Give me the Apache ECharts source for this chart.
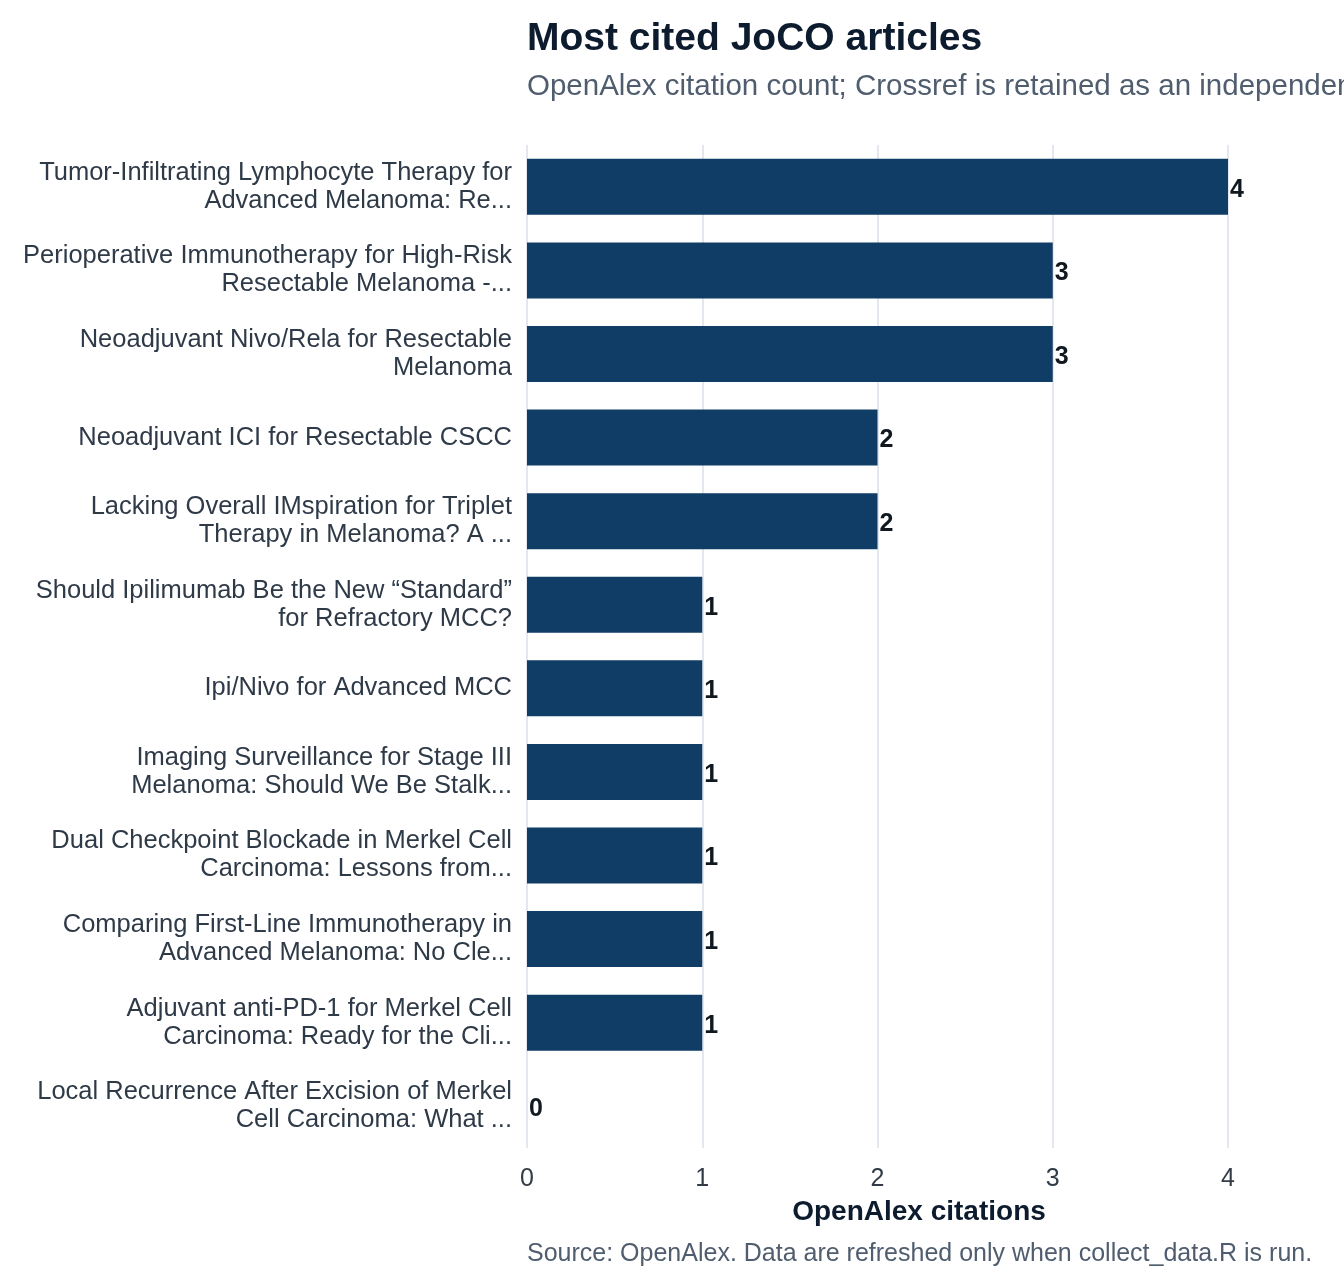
<!DOCTYPE html>
<html>
<head>
<meta charset="UTF-8">
<title>Most cited JoCO articles</title>
<script src="https://cdn.jsdelivr.net/npm/echarts@6/dist/echarts.min.js"></script>
<style>
  html, body { margin: 0; padding: 0; background: #fff; }
  #main { width: 1344px; height: 1286px; }
</style>
</head>
<body>
<div id="main"></div>
<script>
// article titles (already wrapped / truncated as shown)
var articles = [
    'Tumor-Infiltrating Lymphocyte Therapy for\nAdvanced Melanoma: Re...',
    'Perioperative Immunotherapy for High-Risk\nResectable Melanoma -...',
    'Neoadjuvant Nivo/Rela for Resectable\nMelanoma',
    'Neoadjuvant ICI for Resectable CSCC',
    'Lacking Overall IMspiration for Triplet\nTherapy in Melanoma? A ...',
    'Should Ipilimumab Be the New \u201cStandard\u201d\nfor Refractory MCC?',
    'Ipi/Nivo for Advanced MCC',
    'Imaging Surveillance for Stage III\nMelanoma: Should We Be Stalk...',
    'Dual Checkpoint Blockade in Merkel Cell\nCarcinoma: Lessons from...',
    'Comparing First-Line Immunotherapy in\nAdvanced Melanoma: No Cle...',
    'Adjuvant anti-PD-1 for Merkel Cell\nCarcinoma: Ready for the Cli...',
    'Local Recurrence After Excision of Merkel\nCell Carcinoma: What ...'
];
var citations = [4, 3, 3, 2, 2, 1, 1, 1, 1, 1, 1, 0];
var xTicks = [0, 1, 2, 3, 4];

var FONT = '"Liberation Sans", Arial, Helvetica, sans-serif';

var option = {
    backgroundColor: '#ffffff',
    animation: false,
    textStyle: { fontFamily: FONT },
    title: [
        {
            text: 'Most cited JoCO articles',
            left: 527, top: 20, padding: 0,
            textStyle: { fontSize: 39, fontWeight: 'bold', color: '#0d1b2e', fontFamily: FONT }
        },
        {
            text: 'OpenAlex citation count; Crossref is retained as an independent check.',
            left: 527, top: 72, padding: 0,
            textStyle: { fontSize: 29.5, fontWeight: 'normal', color: '#4f5d6e', fontFamily: FONT }
        },
        {
            text: 'OpenAlex citations',
            left: 919, top: 1198, padding: 0, textAlign: 'center',
            textStyle: { fontSize: 28, fontWeight: 'bold', color: '#0d1b2e', fontFamily: FONT }
        },
        {
            text: 'Source: OpenAlex. Data are refreshed only when collect_data.R is run.',
            left: 527, top: 1242, padding: 0,
            textStyle: { fontSize: 25, fontWeight: 'normal', color: '#4f5d6e', fontFamily: FONT }
        }
    ],
    grid: {
        left: 527,
        right: 116,
        top: 145,
        bottom: 138,
        outerBoundsMode: 'none',
        containLabel: false
    },
    xAxis: {
        type: 'value',
        min: xTicks[0],
        max: xTicks[xTicks.length - 1],
        interval: 1,
        axisLine: { show: false },
        axisTick: { show: false },
        axisLabel: { fontSize: 25, color: '#333b46', margin: 19, fontFamily: FONT },
        splitLine: { show: true, lineStyle: { color: '#e3e7ee', width: 2 } }
    },
    yAxis: {
        type: 'category',
        inverse: true,
        data: articles,
        axisLine: { show: false },
        axisTick: { show: false },
        splitLine: { show: false },
        axisLabel: {
            fontSize: 25.5, lineHeight: 28, color: '#2f3a48', margin: 15,
            align: 'right', padding: [6, 0, 0, 0], fontFamily: FONT
        }
    },
    series: [{
        type: 'bar',
        data: citations,
        barWidth: 56,
        itemStyle: { color: '#0f3d66' },
        label: {
            show: true,
            position: 'right',
            distance: 2,
            offset: [0, 3],
            fontSize: 25,
            fontWeight: 'bold',
            color: '#111820',
            fontFamily: FONT
        }
    }]
};

var myChart = echarts.init(document.getElementById('main'));
myChart.setOption(option);
</script>
</body>
</html>
